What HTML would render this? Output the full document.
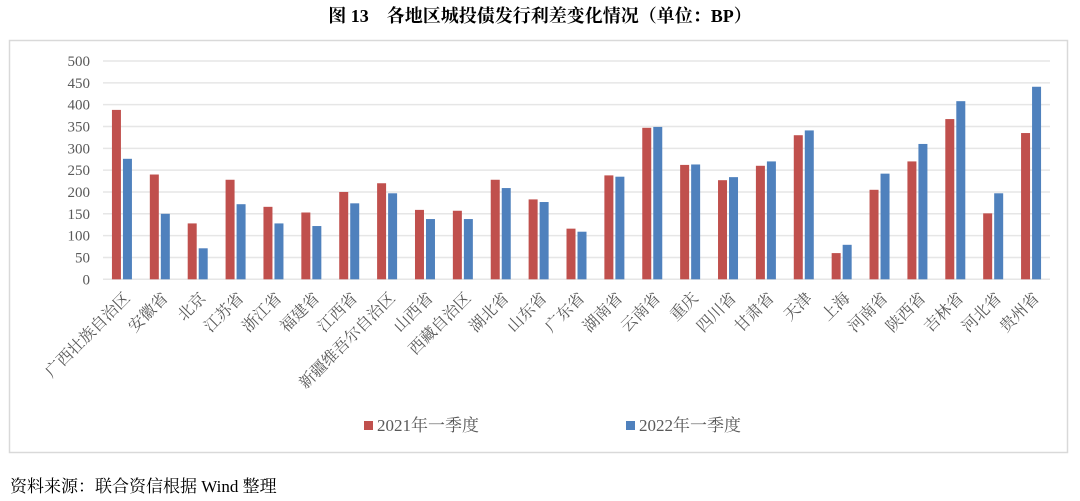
<!DOCTYPE html>
<html><head><meta charset="utf-8"><style>
body{margin:0;background:#fff;}
svg{display:block;font-family:"Liberation Serif","Noto Serif CJK SC",serif;}
</style></head><body>
<svg width="1080" height="501" viewBox="0 0 1080 501" xmlns="http://www.w3.org/2000/svg">
<text x="540" y="22" text-anchor="middle" font-size="18" font-weight="bold" fill="#000" font-family="Liberation Serif, Noto Serif CJK SC, serif">图 13　各地区城投债发行利差变化情况（单位：BP）</text>
<rect x="9.5" y="40.5" width="1058" height="412" fill="#fff" stroke="#d9d9d9" stroke-width="1.5"/>
<g id="grid" stroke="#e6e6e6" stroke-width="1.5"></g>
<g id="yl" font-size="15" fill="#595959" text-anchor="end"></g>
<g id="bars"></g>
<g id="xl" font-size="16" fill="#595959" text-anchor="end"></g>
<rect x="364" y="421" width="9" height="9" fill="#c0504d"/>
<text x="377" y="431" font-size="17" fill="#595959">2021年一季度</text>
<rect x="626" y="421" width="9" height="9" fill="#4f81bd"/>
<text x="639" y="431" font-size="17" fill="#595959">2022年一季度</text>
<text x="10" y="492" font-size="17" fill="#000">资料来源：联合资信根据 Wind 整理</text>
<script>
var ns="http://www.w3.org/2000/svg";
function el(t,a,p,txt){var e=document.createElementNS(ns,t);for(var k in a)e.setAttribute(k,a[k]);if(txt)e.textContent=txt;document.getElementById(p).appendChild(e);}
var z=279.3,s=218.3/500;
for(var v=0;v<=500;v+=50){var y=z-v*s;el('line',{x1:103,x2:1050,y1:y,y2:y},'grid');el('text',{x:90,y:y+5},'yl',String(v));}
var d=[["广西壮族自治区",388,276],["安徽省",240,150],["北京",128,71],["江苏省",228,172],["浙江省",166,128],["福建省",153,122],["江西省",200,174],["新疆维吾尔自治区",220,197],["山西省",159,138],["西藏自治区",157,138],["湖北省",228,209],["山东省",183,177],["广东省",116,109],["湖南省",238,235],["云南省",347,349],["重庆",262,263],["四川省",227,234],["甘肃省",260,270],["天津",330,341],["上海",60,79],["河南省",205,242],["陕西省",270,310],["吉林省",367,408],["河北省",151,197],["贵州省",335,441]];
var w=947/25;
d.forEach(function(r,i){var c=103+w*(i+0.5);
el('rect',{x:c-10,y:z-r[1]*s,width:9,height:r[1]*s,fill:'#c0504d'},'bars');
el('rect',{x:c+1,y:z-r[2]*s,width:9,height:r[2]*s,fill:'#4f81bd'},'bars');
var tx=c+9,ty=299;el('text',{x:tx,y:ty,transform:'rotate(-45 '+tx+' '+ty+')'},'xl',r[0]);});
</script>
</svg>
</body></html>
